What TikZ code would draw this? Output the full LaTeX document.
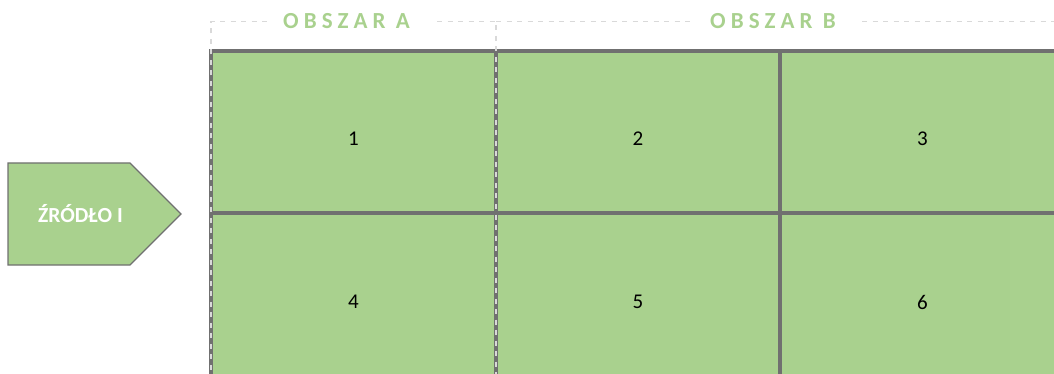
\documentclass[tikz,border=0pt]{standalone}
\usepackage{fontspec}
\setmainfont{Carlito}
\newfontfamily\spacedfont[LetterSpace=22]{Carlito}
\definecolor{cellgreen}{HTML}{A9D18E}
\definecolor{gridgray}{HTML}{707070}
\definecolor{dashgray}{HTML}{D9D9D9}
\tikzset{
  cell/.style={draw=gridgray, line width=3.5pt, fill=cellgreen, rectangle, inner sep=0pt},
  num/.style={font=\fontsize{21}{24}\selectfont, text=black, inner sep=0pt},
  areaframe/.style={draw=dashgray, line width=1.3pt, dash pattern=on 5pt off 5.5pt},
  arealabel/.style={font=\spacedfont\bfseries\fontsize{23}{26}\selectfont, text=cellgreen, inner sep=0pt, anchor=west},
  srcshape/.style={draw=gridgray, line width=1.2pt, fill=cellgreen},
  srclabel/.style={font=\bfseries\fontsize{21.5}{25}\selectfont, text=white, inner sep=0pt}
}
\begin{document}
\begin{tikzpicture}[x=1pt,y=-1pt]
\useasboundingbox (0,0) rectangle (1054,374);
% grid cells
\fill[cellgreen] (211,51) rectangle (1070,390);
\node[cell, minimum width=285pt, minimum height=162pt] (c1) at (353.5,132) {};
\node[cell, minimum width=284pt, minimum height=162pt] (c2) at (638,132) {};
\node[cell, minimum width=285pt, minimum height=162pt] (c3) at (922.5,132) {};
\node[cell, minimum width=285pt, minimum height=166pt] (c4) at (353.5,296) {};
\node[cell, minimum width=284pt, minimum height=166pt] (c5) at (638,296) {};
\node[cell, minimum width=285pt, minimum height=166pt] (c6) at (922.5,296) {};
\node[num] (n1) at ([yshift=-7pt]c1.center) {1};
\node[num] (n2) at ([yshift=-7pt]c2.center) {2};
\node[num] (n3) at ([yshift=-7pt]c3.center) {3};
\node[num] (n4) at (353.5,302) {4};
\node[num] (n5) at (638,302) {5};
\node[num] (n6) at (922.5,302) {6};
% area frames
\draw[areaframe] (211,380) -- (211,21.5) -- (272,21.5);
\draw[areaframe] (437,21.5) -- (496,21.5) -- (496,380);
\draw[areaframe] (496,21.5) -- (693,21.5);
\draw[areaframe] (862,21.5) -- (1060,21.5);
\node[arealabel] (la) at (283,21.5) {OBSZAR A};
\node[arealabel] (lb) at (710,21.5) {OBSZAR B};
% source
\draw[srcshape] (8,163) -- (130,163) -- (181,214) -- (130,265) -- (8,265) -- cycle;
\node[srclabel] (src) at (80.5,214) {ŹRÓDŁO I};
\end{tikzpicture}
\end{document}
